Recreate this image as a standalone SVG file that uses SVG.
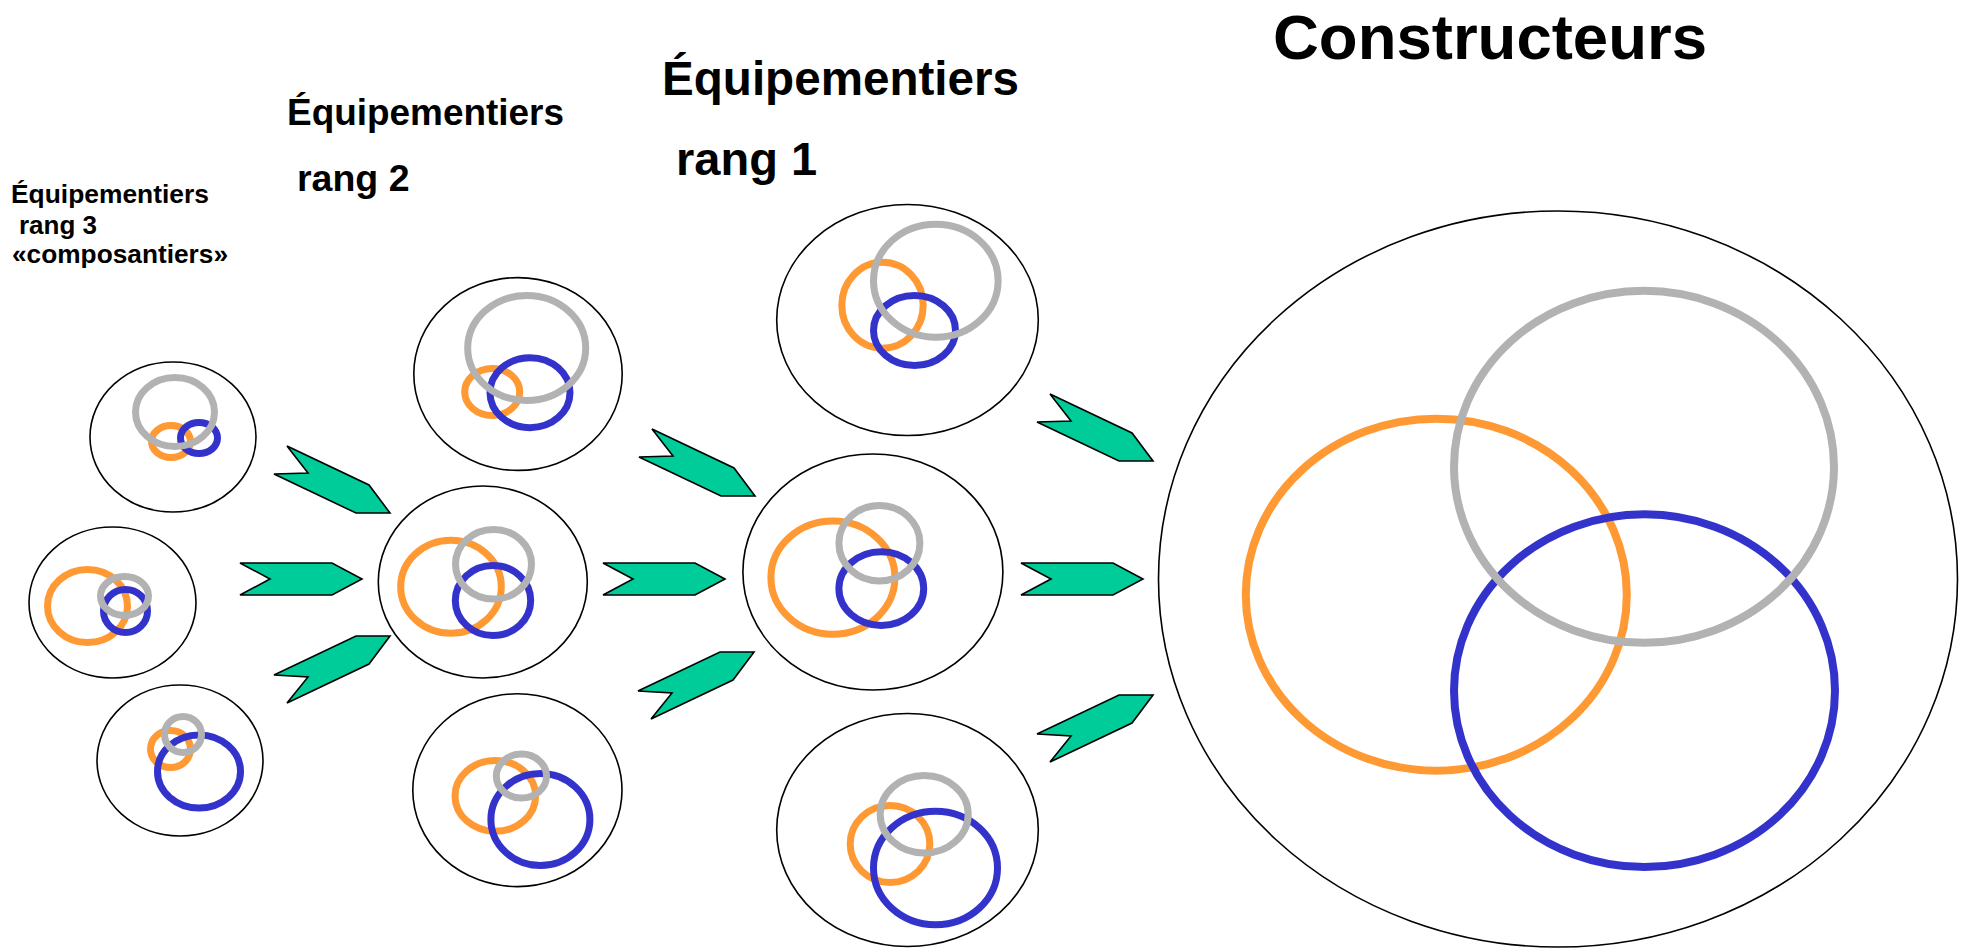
<svg xmlns="http://www.w3.org/2000/svg" xmlns:xlink="http://www.w3.org/1999/xlink" width="1966" height="950" viewBox="0 0 1966 950">
<style>
.t{font-family:"Liberation Sans",Arial,Helvetica,sans-serif;font-weight:bold;fill:#000}
.o{fill:#fff;stroke:#000;stroke-width:1.6}
.or{fill:none;stroke:#FF9933;stroke-width:7}
.gr{fill:none;stroke:#B2B2B2;stroke-width:7}
.bl{fill:none;stroke:#3333CC;stroke-width:7}
.big{stroke-width:8}
.ar{fill:#00CC99;stroke:#000;stroke-width:1.6;stroke-linejoin:miter}
</style>
<defs>
<polygon id="aTop" points="287,446 369,485 390,513 356,513 274,474 308,473"/>
<polygon id="aMid" points="240,563 332,563 362,579 332,595 240,595 270,579"/>
<polygon id="aBot" points="274,675 356,636 390,636 369,664 287,703 308,677"/>
</defs>
<rect width="1966" height="950" fill="#fff"/>

<g id="labels">
<text class="t" x="1273" y="59" font-size="63.5" textLength="434" lengthAdjust="spacingAndGlyphs">Constructeurs</text>
<text class="t" x="662" y="95" font-size="47.5" textLength="357" lengthAdjust="spacingAndGlyphs">Équipementiers</text>
<text class="t" x="676" y="175" font-size="47">rang 1</text>
<text class="t" x="287" y="125" font-size="37" textLength="277" lengthAdjust="spacingAndGlyphs">Équipementiers</text>
<text class="t" x="297" y="191" font-size="37.5">rang 2</text>
<text class="t" x="11" y="203" font-size="26" textLength="198" lengthAdjust="spacingAndGlyphs">Équipementiers</text>
<text class="t" x="19" y="234" font-size="26">rang 3</text>
<text class="t" x="12" y="263" font-size="26" textLength="216" lengthAdjust="spacingAndGlyphs">«composantiers»</text>
</g>

<g id="connectors">
<use xlink:href="#aTop" class="ar"/>
<use xlink:href="#aMid" class="ar"/>
<use xlink:href="#aBot" class="ar"/>
<use xlink:href="#aTop" class="ar" transform="translate(365,-17)"/>
<use xlink:href="#aMid" class="ar" transform="translate(363,0)"/>
<use xlink:href="#aBot" class="ar" transform="translate(364,16)"/>
<use xlink:href="#aTop" class="ar" transform="translate(763,-52)"/>
<use xlink:href="#aMid" class="ar" transform="translate(781,0)"/>
<use xlink:href="#aBot" class="ar" transform="translate(763,59)"/>
</g>

<g id="r3a">
<ellipse class="o" cx="173" cy="437" rx="83" ry="75"/>
<ellipse class="or" cx="171" cy="441.5" rx="19.5" ry="16"/>
<ellipse class="bl" cx="199" cy="438" rx="18.5" ry="15.5"/>
<ellipse class="gr" cx="175" cy="412" rx="39.5" ry="34.5"/>
</g>
<g id="r3b">
<ellipse class="o" cx="112.5" cy="602.5" rx="83.5" ry="75.5"/>
<ellipse class="or" cx="87.5" cy="606" rx="40" ry="36.5"/>
<ellipse class="bl" cx="125.5" cy="611" rx="22" ry="21.5"/>
<ellipse class="gr" cx="124.5" cy="596" rx="24" ry="19.5"/>
</g>
<g id="r3c">
<ellipse class="o" cx="180" cy="760.5" rx="83" ry="75.5"/>
<ellipse class="or" cx="170.5" cy="749" rx="20" ry="18.5"/>
<ellipse class="bl" cx="199" cy="771.5" rx="41.5" ry="36.5"/>
<ellipse class="gr" cx="183" cy="734.5" rx="18.5" ry="18"/>
</g>

<g id="r2a">
<ellipse class="o" cx="518" cy="374" rx="104.2" ry="96.4"/>
<ellipse class="or" cx="492.2" cy="392" rx="27.5" ry="23.5"/>
<ellipse class="bl" cx="530" cy="392.7" rx="40" ry="35"/>
<ellipse class="gr" cx="526.7" cy="348" rx="59" ry="52.5"/>
</g>
<g id="r2b">
<ellipse class="o" cx="482.8" cy="582" rx="104.5" ry="96"/>
<ellipse class="or" cx="451" cy="586.7" rx="50.3" ry="46.5"/>
<ellipse class="bl" cx="493" cy="600.5" rx="37.7" ry="35"/>
<ellipse class="gr" cx="493.5" cy="564.3" rx="38" ry="34.8"/>
</g>
<g id="r2c">
<ellipse class="o" cx="517.4" cy="790.2" rx="104.6" ry="96.4"/>
<ellipse class="or" cx="495.3" cy="795.9" rx="40.3" ry="35.4"/>
<ellipse class="bl" cx="540.4" cy="819.5" rx="49.5" ry="46"/>
<ellipse class="gr" cx="521.4" cy="776.1" rx="25.1" ry="22"/>
</g>

<g id="r1a">
<ellipse class="o" cx="907.5" cy="320" rx="130.8" ry="115.5"/>
<ellipse class="or" cx="882.5" cy="305.2" rx="40.7" ry="43"/>
<ellipse class="bl" cx="914.5" cy="330.5" rx="41" ry="35"/>
<ellipse class="gr" cx="935.8" cy="280.7" rx="62.3" ry="56.5"/>
</g>
<g id="r1b">
<ellipse class="o" cx="872.9" cy="572" rx="130" ry="118"/>
<ellipse class="or" cx="832.9" cy="577.6" rx="62" ry="56.6"/>
<ellipse class="bl" cx="881.3" cy="588.6" rx="42.4" ry="36.9"/>
<ellipse class="gr" cx="879.4" cy="543.2" rx="40.5" ry="37.7"/>
</g>
<g id="r1c">
<ellipse class="o" cx="907.5" cy="830" rx="130.8" ry="116.5"/>
<ellipse class="or" cx="890" cy="844" rx="39.8" ry="38.5"/>
<ellipse class="bl" cx="935.5" cy="868" rx="62" ry="56.8"/>
<ellipse class="gr" cx="924.2" cy="814.3" rx="44" ry="38.8"/>
</g>

<g id="constructeurs">
<ellipse class="o" cx="1558" cy="579" rx="399.5" ry="368"/>
<ellipse class="or big" cx="1436.3" cy="594.7" rx="190.5" ry="176"/>
<ellipse class="bl big" cx="1644.5" cy="690.7" rx="190.5" ry="176.4"/>
<ellipse class="gr big" cx="1644" cy="466.8" rx="190" ry="176"/>
</g>
</svg>
